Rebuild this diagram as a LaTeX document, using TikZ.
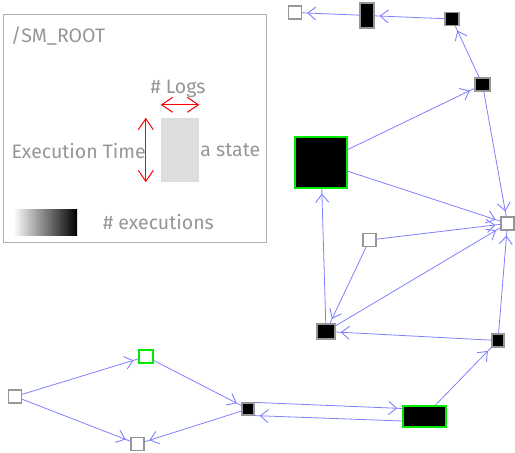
\documentclass[tikz,border=0pt]{standalone}
\usepackage{fontspec}
\setmainfont{Fira Sans}
\usetikzlibrary{arrows.meta, decorations.markings}
\definecolor{smLink}{RGB}{128,128,255}
\definecolor{smEdge}{RGB}{150,150,150}
\definecolor{smText}{RGB}{150,150,150}
\definecolor{smMark}{RGB}{0,235,0}
\definecolor{smFrame}{RGB}{175,175,175}
\definecolor{smShade}{RGB}{221,221,221}
\definecolor{smRed}{RGB}{255,0,0}
\tikzset{
  % a state of the machine; the fill tells how often it ran
  state/.style={
    draw=smEdge, line width=1.2pt, fill=white,
    inner sep=0pt, minimum width=13pt, minimum height=13pt
  },
  busy/.style={state, fill=black},
  marked/.style={draw=smMark},
  % transitions, with the open head set a little before the target
  link/.style={
    draw=smLink, line width=0.8pt, postaction={decorate},
    decoration={markings, mark=at position -5pt with
      {\arrow{Straight Barb[length=8pt,width=13pt,line width=0.9pt]}}}
  },
  % legend
  legtext/.style={text=smText, font=\fontsize{19.5}{22}\selectfont, inner sep=0pt},
  measure/.style={draw=smRed, line width=1pt,
    {Straight Barb[length=11pt,width=15pt]}-{Straight Barb[length=11pt,width=15pt]}},
}

\begin{document}
\begin{tikzpicture}[x=1pt, y=-1pt]
\useasboundingbox (0,0) rectangle (515,453);

% =============================== legend ====================================
\draw[smFrame, line width=1pt] (3,14) rectangle (266,242);
\node[legtext, anchor=west] (root) at (11,36) {/SM\_ROOT};

\node[fill=smShade, inner sep=0pt, minimum width=38pt, minimum height=64pt]
      (legstate) at (180,150) {};
\node[legtext, anchor=west] (legname) at ([xshift=1pt]legstate.east) {a state};
\node[legtext] (leglogs) at (178,89) {\# Logs};
\node[legtext, anchor=east] (legtime) at (146,151) {Execution Time};

\draw[measure] ([yshift=13pt]legstate.north west) -- ([yshift=13pt]legstate.north east);
\draw[measure] ([xshift=-15pt]legstate.north west) -- ([xshift=-15pt]legstate.south west);

\shade[left color=white, right color=black] (13,209) rectangle (77,235);
\node[legtext, anchor=west] (legexec) at (103,222) {\# executions};

% ============================== states =====================================
\node[state]                                     (ta)   at (295,12.5) {};
\node[busy, minimum width=14pt, minimum height=25pt] (tb) at (367,15.5) {};
\node[busy, minimum width=14pt]                  (tc)   at (452,19) {};
\node[busy, minimum width=15pt]                  (td)   at (482.5,84.5) {};
\node[busy, marked, minimum width=52pt, minimum height=51pt] (big) at (321,162.5) {};
\node[state]                                     (hub)  at (507.5,223.5) {};
\node[state]                                     (gw)   at (369.5,240) {};
\node[busy, minimum width=18pt, minimum height=15pt] (hl) at (326,331.5) {};
\node[busy, minimum width=12pt]                  (hr)   at (498,340.5) {};
\node[busy, marked, minimum width=43pt, minimum height=21pt] (wide) at (424.5,416.5) {};
\node[busy, minimum width=12pt, minimum height=12pt] (mid) at (248,409) {};
\node[state, marked, minimum width=14pt]         (up)   at (146,356.5) {};
\node[state]                                     (src)  at (15,396.5) {};
\node[state]                                     (low)  at (137.5,444) {};

% ============================ transitions ==================================
\draw[link] (tb)  -- (ta);
\draw[link] (tc)  -- (tb);
\draw[link] (td)  -- (tc);
\draw[link] (big) -- (td);
\draw[link] (td)  -- (hub);
\draw[link] (big) -- (hub);
\draw[link] (gw)  -- (hub);
\draw[link] (hl)  -- (hub);
\draw[link] (hr)  -- (hub);
\draw[link] (hl)  -- (big);
\draw[link] (gw)  -- (hl);
\draw[link] (hr)  -- (hl);
\draw[link] (wide) -- (hr);
\draw[link] (mid.north east) -- ([yshift=8pt]wide.west);
\draw[link] ([yshift=-4.5pt]wide.west) -- (mid.south east);
\draw[link] (src) -- (up);
\draw[link] (up)  -- (mid);
\draw[link] (src) -- (low);
\draw[link] (mid) -- (low);

\end{tikzpicture}
\end{document}
